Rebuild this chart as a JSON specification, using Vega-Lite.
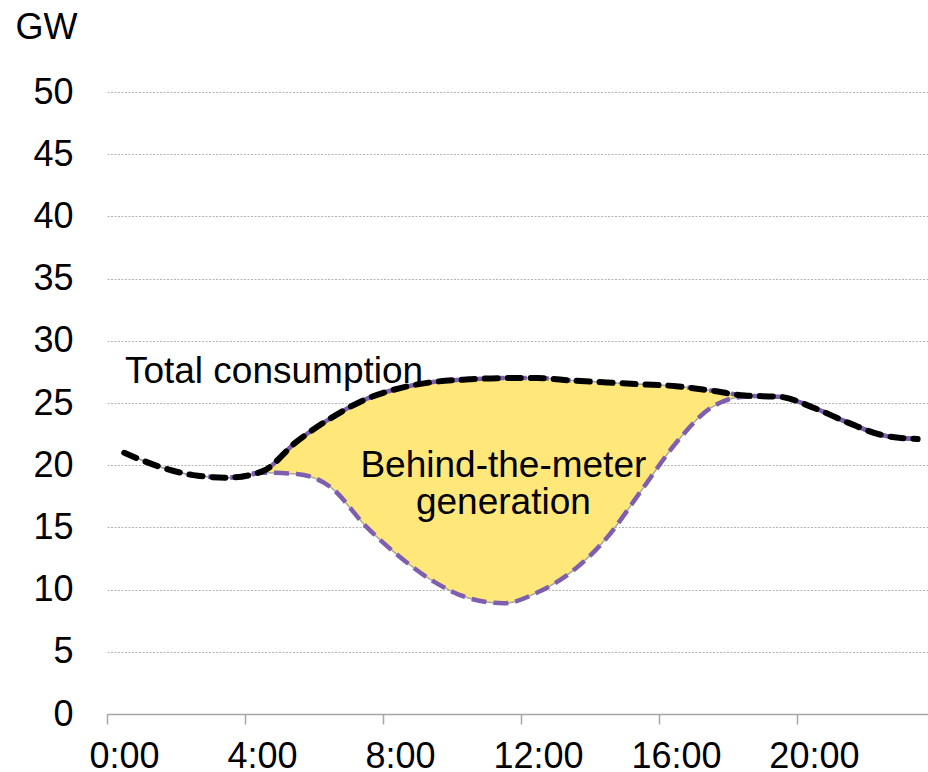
{
  "$schema": "https://vega.github.io/schema/vega-lite/v6.json",
  "width": 821,
  "height": 622,
  "autosize": {"type": "none"},
  "padding": {"left": 107, "top": 92, "right": 0, "bottom": 58},
  "background": "white",
  "config": {
    "view": {"stroke": null},
    "font": "Liberation Sans",
    "axis": {"labelFont": "Liberation Sans", "titleFont": "Liberation Sans", "labelColor": "black", "titleColor": "black"}
  },
  "datasets": {
    "load": [
      {"hour": 0.5, "total": 21.0, "net": 21.0},
      {"hour": 1.5, "total": 19.9, "net": 19.9},
      {"hour": 2.5, "total": 19.2, "net": 19.2},
      {"hour": 3.5, "total": 19.0, "net": 19.0},
      {"hour": 4.5, "total": 19.5, "net": 19.4},
      {"hour": 5.5, "total": 21.9, "net": 19.3},
      {"hour": 6.5, "total": 23.8, "net": 18.2},
      {"hour": 7.5, "total": 25.3, "net": 15.1},
      {"hour": 8.5, "total": 26.2, "net": 12.6},
      {"hour": 9.5, "total": 26.7, "net": 10.6},
      {"hour": 10.5, "total": 26.9, "net": 9.3},
      {"hour": 11.5, "total": 27.0, "net": 8.9},
      {"hour": 12.5, "total": 27.0, "net": 9.8},
      {"hour": 13.5, "total": 26.8, "net": 11.5},
      {"hour": 14.5, "total": 26.65, "net": 14.2},
      {"hour": 15.5, "total": 26.5, "net": 18.0},
      {"hour": 16.5, "total": 26.35, "net": 21.8},
      {"hour": 17.5, "total": 26.0, "net": 24.6},
      {"hour": 18.5, "total": 25.6, "net": 25.5},
      {"hour": 19.5, "total": 25.5, "net": 25.5},
      {"hour": 20.5, "total": 24.6, "net": 24.6},
      {"hour": 21.5, "total": 23.4, "net": 23.4},
      {"hour": 22.5, "total": 22.4, "net": 22.4},
      {"hour": 23.5, "total": 22.1, "net": 22.1}
    ],
    "labelsLeft": [
      {"hour": 0.52, "value": 26.6, "text": "Total consumption"}
    ],
    "labelsCenter": [
      {"hour": 11.49, "value": 19.05, "text": "Behind-the-meter"},
      {"hour": 11.49, "value": 16.08, "text": "generation"}
    ]
  },
  "data": {"name": "load"},
  "encoding": {
    "x": {
      "field": "hour",
      "type": "quantitative",
      "scale": {"domain": [0, 23.8], "nice": false, "zero": false},
      "axis": {
        "title": null,
        "values": [0, 4, 8, 12, 16, 20],
        "labelExpr": "datum.value + ':00'",
        "labelFontSize": 36,
        "labelOffset": 17,
        "labelPadding": 15,
        "tickSize": 10,
        "tickColor": "#A6A6A6",
        "tickWidth": 1.5,
        "domainColor": "#A6A6A6",
        "domainWidth": 1.5,
        "grid": false,
        "labelFlush": false,
        "labelOverlap": false
      }
    }
  },
  "layer": [
    {
      "mark": {"type": "area", "color": "#FFE77A", "interpolate": "monotone"},
      "encoding": {
        "y": {
          "field": "total",
          "type": "quantitative",
          "scale": {"domain": [0, 50], "nice": false},
          "axis": {
            "title": "GW",
            "titleAngle": 0,
            "titleX": -92,
            "titleY": -54,
            "titleAlign": "left",
            "titleBaseline": "alphabetic",
            "titleFontSize": 36,
            "titleFontWeight": "normal",
            "values": [0, 5, 10, 15, 20, 25, 30, 35, 40, 45, 50],
            "labelFontSize": 36,
            "labelPadding": 34,
            "tickSize": 0,
            "domain": false,
            "grid": true,
            "gridColor": "#B4B4B4",
            "gridDash": [2, 1.5],
            "gridWidth": 1
          }
        },
        "y2": {"field": "net"}
      }
    },
    {
      "mark": {"type": "line", "color": "#A6A6A6", "strokeWidth": 1.5, "interpolate": "monotone"},
      "encoding": {"y": {"field": "net", "type": "quantitative"}}
    },
    {
      "mark": {"type": "line", "color": "#A6A6A6", "strokeWidth": 1.5, "interpolate": "monotone"},
      "encoding": {"y": {"field": "total", "type": "quantitative"}}
    },
    {
      "mark": {"type": "line", "color": "#7E5FAF", "strokeWidth": 4.5, "strokeDash": [15, 7], "interpolate": "monotone"},
      "encoding": {"y": {"field": "net", "type": "quantitative"}}
    },
    {
      "mark": {"type": "line", "color": "#7E5FAF", "strokeWidth": 4.5, "strokeDash": [15, 7], "interpolate": "monotone"},
      "encoding": {"y": {"field": "total", "type": "quantitative"}}
    },
    {
      "mark": {"type": "line", "color": "black", "strokeWidth": 6, "strokeCap": "round", "strokeDash": [13, 10], "interpolate": "monotone"},
      "encoding": {"y": {"field": "total", "type": "quantitative"}}
    },
    {
      "data": {"name": "labelsLeft"},
      "mark": {"type": "text", "fontSize": 37, "baseline": "alphabetic", "align": "left", "color": "black", "font": "Liberation Sans"},
      "encoding": {
        "y": {"field": "value", "type": "quantitative"},
        "text": {"field": "text"}
      }
    },
    {
      "data": {"name": "labelsCenter"},
      "mark": {"type": "text", "fontSize": 37, "baseline": "alphabetic", "align": "center", "color": "black", "font": "Liberation Sans"},
      "encoding": {
        "y": {"field": "value", "type": "quantitative"},
        "text": {"field": "text"}
      }
    }
  ]
}
